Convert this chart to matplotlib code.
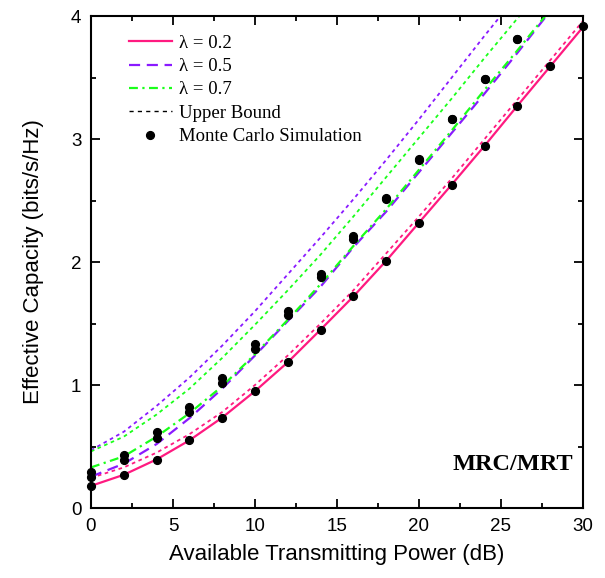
import matplotlib
matplotlib.use("Agg")
import matplotlib.pyplot as plt
from matplotlib.lines import Line2D
from matplotlib.ticker import MultipleLocator

# ---- data ----
snr = [0, 2, 4, 6, 8, 10, 12, 14, 16, 18, 20, 22, 24, 26, 28, 30]
ec_02 = [0.18, 0.27, 0.395, 0.55, 0.735, 0.95, 1.185, 1.45, 1.72, 2.01, 2.32, 2.63, 2.945, 3.27, 3.59, 3.91]
ec_05 = [0.255, 0.36, 0.52, 0.73, 0.97, 1.24, 1.52, 1.80, 2.12, 2.41, 2.73, 3.05, 3.37, 3.70, 4.04, 4.37]
ec_07 = [0.33, 0.42, 0.58, 0.77, 0.99, 1.25, 1.53, 1.82, 2.13, 2.43, 2.75, 3.07, 3.40, 3.72, 4.05, 4.38]
ub_02 = [0.245, 0.33, 0.45, 0.60, 0.78, 1.00, 1.24, 1.50, 1.77, 2.07, 2.37, 2.68, 3.00, 3.32, 3.64, 3.96]
ub_05 = [0.47, 0.62, 0.83, 1.06, 1.32, 1.60, 1.90, 2.20, 2.51, 2.83, 3.16, 3.50, 3.84, 4.17, 4.50, 4.83]
ub_07 = [0.46, 0.58, 0.76, 0.97, 1.22, 1.49, 1.77, 2.06, 2.37, 2.69, 3.01, 3.33, 3.66, 3.98, 4.30, 4.62]

mc_snr_02 = [0, 2, 4, 6, 8, 10, 12, 14, 16, 18, 20, 22, 24, 26, 28, 30]
mc_02 = [0.18, 0.27, 0.39, 0.55, 0.73, 0.95, 1.19, 1.45, 1.72, 2.01, 2.32, 2.63, 2.94, 3.27, 3.59, 3.92]
mc_snr_57 = [0, 2, 4, 6, 8, 10, 12, 14, 16, 18, 20, 22, 24, 26]
mc_05 = [0.25, 0.39, 0.57, 0.78, 1.02, 1.29, 1.57, 1.88, 2.19, 2.51, 2.83, 3.16, 3.49, 3.81]
mc_07 = [0.29, 0.43, 0.62, 0.82, 1.06, 1.33, 1.60, 1.90, 2.21, 2.52, 2.84, 3.16, 3.49, 3.81]

labels = ["λ = 0.2", "λ = 0.5", "λ = 0.7", "Upper Bound", "Monte Carlo Simulation"]
xticks = [0, 5, 10, 15, 20, 25, 30]
yticks = [0, 1, 2, 3, 4]

c_pink = "#FF1A80"
c_purple = "#8A1AFF"
c_green = "#1AFF1A"

sans = ["Liberation Sans", "DejaVu Sans"]
serif = ["Liberation Serif", "DejaVu Serif"]

fig = plt.figure(figsize=(6.05, 5.78), dpi=100)
ax = fig.add_axes([0.1504, 0.1211, 0.8132, 0.8512])

dash_ls = (0, (5, 3))
dashdot_ls = (0, (4, 2, 1, 2))
dot_ls = (0, (2, 2))

ax.plot(snr, ub_05, color=c_purple, lw=1.3, ls=dot_ls)
ax.plot(snr, ub_07, color=c_green, lw=1.3, ls=dot_ls)
ax.plot(snr, ub_02, color=c_pink, lw=1.3, ls=dot_ls)
ax.plot(snr, ec_02, color=c_pink, lw=1.6, ls="-")
ax.plot(snr, ec_05, color=c_purple, lw=1.6, ls=dash_ls)
ax.plot(snr, ec_07, color=c_green, lw=1.6, ls=dashdot_ls)

mk = dict(ls="none", marker="o", ms=5.6, color="black", clip_on=False, zorder=5)
ax.plot(mc_snr_02, mc_02, **mk)
ax.plot(mc_snr_57, mc_05, **mk)
ax.plot(mc_snr_57, mc_07, **mk)

ax.set_xlim(0, 30)
ax.set_ylim(0, 4)
ax.set_xticks(xticks)
ax.set_yticks(yticks)
ax.xaxis.set_minor_locator(MultipleLocator(2.5))
ax.yaxis.set_minor_locator(MultipleLocator(0.5))
ax.tick_params(which="both", direction="in", top=True, right=True, width=1.3)
ax.tick_params(which="major", length=6.5, labelsize=13.5, pad=7)
ax.tick_params(which="minor", length=3.5)
for lab in ax.get_xticklabels() + ax.get_yticklabels():
    lab.set_family(sans)
for sp in ax.spines.values():
    sp.set_linewidth(1.5)

ax.set_xlabel("Available Transmitting Power (dB)", fontsize=16, family=sans, labelpad=7)
ax.set_ylabel("Effective Capacity (bits/s/Hz)", fontsize=16, family=sans, labelpad=19)

handles = [
    Line2D([], [], color=c_pink, lw=1.6, ls="-"),
    Line2D([], [], color=c_purple, lw=1.6, ls=dash_ls),
    Line2D([], [], color=c_green, lw=1.6, ls=dashdot_ls),
    Line2D([], [], color="black", lw=1.0, ls=(0, (3, 3))),
    Line2D([], [], color="black", ls="none", marker="o", ms=5.6),
]
leg = ax.legend(handles, labels, loc="upper left", bbox_to_anchor=(0.077, 0.962),
                frameon=False, prop={"family": serif, "size": 13.5},
                handlelength=2.3, handletextpad=0.4, labelspacing=0.33,
                borderaxespad=0, borderpad=0)

ax.text(29.4, 0.35, "MRC/MRT", ha="right", va="center", fontsize=17.5,
        fontweight="bold", family=serif)

fig.savefig("out.png", dpi=100)
